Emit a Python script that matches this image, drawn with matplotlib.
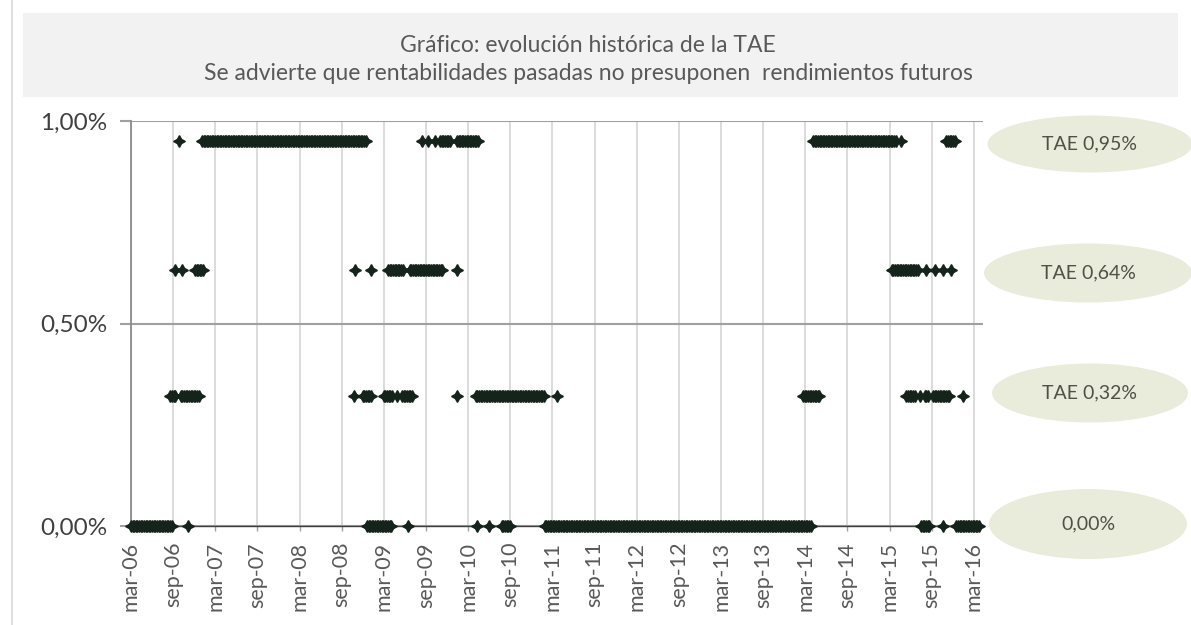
import matplotlib.pyplot as plt
import numpy as np
from matplotlib.patches import Ellipse, Rectangle
from matplotlib.lines import Line2D

plt.rcParams['font.family'] = ['Lato', 'DejaVu Sans']

# months counted from mar-06; each pair is a run of weekly observations (start, end)
tae_095 = [(6.8, 6.8), (10.1, 33.5), (41.4, 41.4), (42.3, 42.3), (43.3, 43.3), (44.0, 45.6),
           (46.4, 49.4), (97.1, 109.0), (109.6, 109.6), (116.1, 117.3)]
tae_064 = [(6.3, 6.3), (7.2, 7.2), (9.1, 10.3), (31.9, 31.9), (34.1, 34.1), (36.6, 38.7),
           (39.7, 44.4), (46.4, 46.4), (108.3, 112.0), (113.2, 113.2), (114.4, 114.4),
           (115.6, 115.6), (116.8, 116.8)]
tae_032 = [(5.6, 6.4), (7.1, 9.8), (31.7, 31.7), (33.0, 34.3), (36.0, 37.2), (37.9, 37.9),
           (38.6, 40.1), (46.4, 46.4), (49.1, 58.9), (60.6, 60.6), (95.7, 98.1),
           (110.4, 111.6), (112.3, 112.3), (113.0, 113.6), (114.2, 116.6), (118.4, 118.4)]
tae_000 = [(0.0, 5.8), (8.1, 8.1), (33.6, 37.1), (39.5, 39.5), (49.3, 49.3), (51.0, 51.0),
           (52.8, 54.0), (58.9, 96.9), (112.5, 113.7), (115.6, 115.6), (117.5, 120.9)]
levels = [0.95, 0.633, 0.32, 0.0]
runs = [tae_095, tae_064, tae_032, tae_000]

tick_months = list(range(0, 121, 6))
tick_labels = ['mar-06', 'sep-06', 'mar-07', 'sep-07', 'mar-08', 'sep-08', 'mar-09',
               'sep-09', 'mar-10', 'sep-10', 'mar-11', 'sep-11', 'mar-12', 'sep-12',
               'mar-13', 'sep-13', 'mar-14', 'sep-14', 'mar-15', 'sep-15', 'mar-16']
badge_labels = ['TAE 0,95%', 'TAE 0,64%', 'TAE 0,32%', '0,00%']

title1 = 'Gráfico: evolución histórica de la TAE'
title2 = 'Se advierte que rentabilidades pasadas no presuponen  rendimientos futuros'

W, H = 1191, 625
fig = plt.figure(figsize=(W / 100, H / 100), dpi=100)


def fx(px):
    return px / W


def fy(py):
    return 1 - py / H


# chart frame and title band
fig.add_artist(Line2D([fx(12), fx(12)], [0, 1], color='#d9d9d9', lw=1.2))
fig.add_artist(Rectangle((fx(23), fy(97)), fx(1178) - fx(23), fy(13) - fy(97),
                         facecolor='#f2f2f2', edgecolor='none'))
fig.text(fx(588), fy(45), title1, ha='center', va='center', fontsize=16.5, color='#595959')
fig.text(fx(588), fy(73), title2, ha='center', va='center', fontsize=16.5, color='#595959')

ax = fig.add_axes([fx(131), fy(526), fx(983) - fx(131), fy(121) - fy(526)])

step = 12 / 52
for lvl, rr in zip(levels, runs):
    xs = []
    for a, b in rr:
        if b - a < step:
            xs.append(a)
        else:
            xs.extend(np.arange(a, b + 1e-9, step))
    ax.plot(xs, [lvl] * len(xs), linestyle='none', marker=(4, 1, 0), ms=8.5,
            color='#15241a', clip_on=False, zorder=5)

ax.set_xlim(0, 121.3)
ax.set_ylim(0, 1.0)
ax.set_xticks(tick_months)
ax.set_xticklabels(tick_labels, rotation=90, fontsize=15.5, color='#595959')
ax.set_yticks([0, 0.5, 1.0])
ax.set_yticklabels(['0,00%', '0,50%', '1,00%'], fontsize=17.5, color='#404040')

ax.xaxis.grid(True, color='#d9d9d9', lw=1.3)
ax.yaxis.grid(True, color='#a0a0a0', lw=1.5)
ax.set_axisbelow(True)
ax.tick_params(axis='y', length=8, width=1.5, color='#a0a0a0', pad=9)
ax.tick_params(axis='x', length=3.5, width=1, color='#a0a0a0', pad=8)

for s in ['top', 'right']:
    ax.spines[s].set_visible(False)
ax.spines['left'].set_color('#8c8c8c')
ax.spines['left'].set_linewidth(1.3)
ax.spines['bottom'].set_color('#404040')
ax.spines['bottom'].set_linewidth(1.0)

# value badges on the right
badge_pos = [(1090, 144, 205, 57), (1088, 273, 208, 59), (1090, 393, 196, 59), (1088, 524, 198, 70)]
for (cx, cy, w, h), lab in zip(badge_pos, badge_labels):
    fig.add_artist(Ellipse((fx(cx), fy(cy)), w / W, h / H, facecolor='#e9ebdb', edgecolor='none'))
    fig.text(fx(cx), fy(cy), lab, ha='center', va='center', fontsize=14, color='#4f5145')

fig.savefig('out.png', dpi=100)
